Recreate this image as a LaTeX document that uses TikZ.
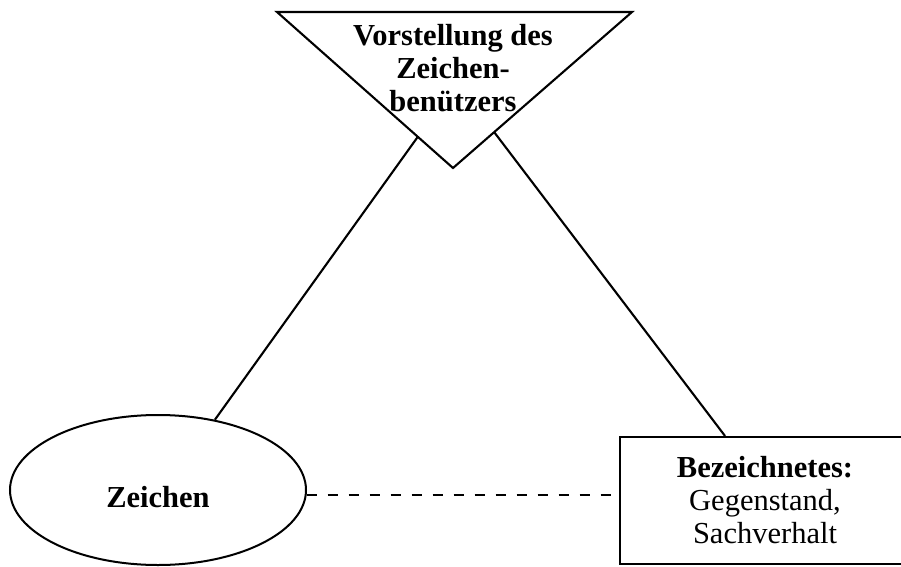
\documentclass[tikz,border=0pt]{standalone}
\usepackage{fontspec}
\setmainfont{Liberation Serif}
\usetikzlibrary{shapes.geometric,calc}
\begin{document}
\begin{tikzpicture}[x=1pt,y=1pt,
  line/.style={line width=2.1pt, line join=miter},
  txt/.style={font=\fontsize{30.5}{33}\selectfont, align=center, inner sep=0pt}]
\clip (0,0) rectangle (901,566);
% triangle
\coordinate (tl) at (277,554);
\coordinate (tr) at (632,554);
\coordinate (ta) at (453,398);
\draw[line] (tl) -- (tr) -- (ta) -- cycle;
\node[txt, font=\fontsize{30.5}{33}\selectfont\bfseries] (vorst) at (453,498) {Vorstellung des\\Zeichen-\\benützers};
% ellipse
\node[ellipse, draw, line width=2pt, minimum width=296pt, minimum height=150pt, inner sep=0pt] (zeichen) at (158,76) {};
\node[txt, font=\fontsize{30.5}{33}\selectfont\bfseries] (zlabel) at (158,69) {Zeichen};
% rectangle
\node[draw, line width=2.1pt, minimum width=290pt, minimum height=127pt, inner sep=0pt, txt] (bez) at (765,65.5) {\textbf{Bezeichnetes:}\\Gegenstand,\\Sachverhalt};
% connectors
\draw[line] ($(tl)!0.80!(ta)$) -- (zeichen.51.8);
\draw[line] ($(tr)!0.77!(ta)$) -- ($(bez.north)+(-40,0)$);
\draw[line width=2pt, dash pattern=on 10pt off 11pt] (zeichen.-2) -- (zeichen.-2 -| bez.west);
\end{tikzpicture}
\end{document}
